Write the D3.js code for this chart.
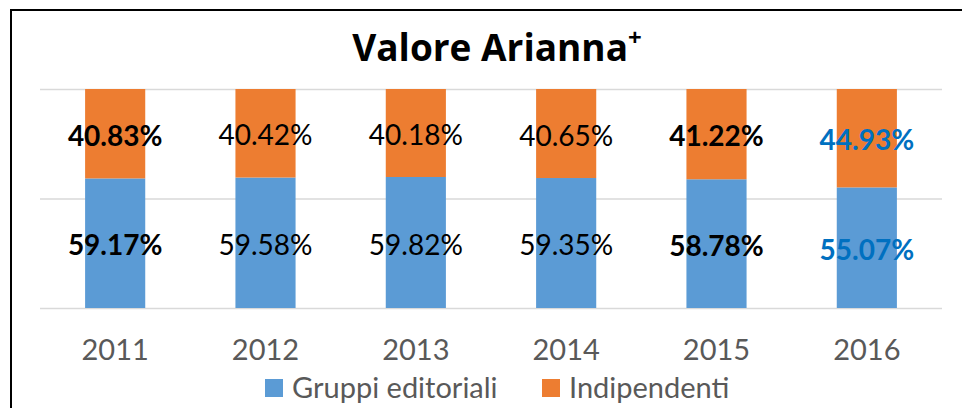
<!DOCTYPE html>
<html>
<head>
<meta charset="utf-8">
<script src="https://cdn.jsdelivr.net/npm/d3@7"></script>
<style>
  body { margin: 0; background: #fff; }
  svg { display: block; font-family: Lato, "Open Sans", sans-serif; }
</style>
</head>
<body>
<div id="chart"></div>
<script>
// chart values
var years = ["2011", "2012", "2013", "2014", "2015", "2016"];
var gruppi = [59.17, 59.58, 59.82, 59.35, 58.78, 55.07];
var indipendenti = [40.83, 40.42, 40.18, 40.65, 41.22, 44.93];
var labelBold = [true, false, false, false, true, true];
var labelBlue = [false, false, false, false, false, true];
var seriesNames = ["Gruppi editoriali", "Indipendenti"];
var seriesColors = ["#5b9bd5", "#ed7d31"];
var gridTicks = [0, 50, 100];

var width = 962, height = 408;

var svg = d3.select("#chart").append("svg")
    .attr("width", width)
    .attr("height", height);

svg.append("rect")
    .attr("width", width).attr("height", height)
    .attr("fill", "#fff");

// frame (right and bottom edges fall outside the picture)
svg.append("rect")
    .attr("x", 11).attr("y", 10)
    .attr("width", 1000).attr("height", 500)
    .attr("fill", "none")
    .attr("stroke", "#000")
    .attr("stroke-width", 2);

var title = svg.append("text")
    .attr("x", 497).attr("y", 61)
    .attr("text-anchor", "middle")
    .attr("font-family", "'Open Sans', Lato, sans-serif")
    .attr("font-size", 37)
    .attr("font-weight", "bold")
    .attr("fill", "#000");
title.append("tspan").text("Valore Arianna");
title.append("tspan").attr("font-size", 24).attr("dy", -15).text("+");

var x = d3.scaleBand()
    .domain(years)
    .range([40, 942])
    .paddingInner(0.6)
    .paddingOuter(0.3);

var y = d3.scaleLinear()
    .domain([0, 100])
    .range([308, 89]);

// gridlines
svg.append("g")
    .selectAll("line")
    .data(gridTicks)
    .join("line")
    .attr("x1", 40).attr("x2", 942)
    .attr("y1", function(d) { return y(d) + 0.5; })
    .attr("y2", function(d) { return y(d) + 0.5; })
    .attr("stroke", "#d9d9d9")
    .attr("stroke-width", 1.5);

var rows = years.map(function(yr, i) {
    return { year: yr, gruppi: gruppi[i], indipendenti: indipendenti[i], i: i };
});
var stacked = d3.stack().keys(["gruppi", "indipendenti"])(rows);

var layers = svg.append("g")
    .selectAll("g")
    .data(stacked)
    .join("g")
    .attr("fill", function(d, k) { return seriesColors[k]; });

layers.selectAll("rect")
    .data(function(d) { return d; })
    .join("rect")
    .attr("x", function(d) { return x(d.data.year); })
    .attr("width", x.bandwidth())
    .attr("y", function(d) { return y(d[1]); })
    .attr("height", function(d) { return y(d[0]) - y(d[1]); });

// data labels
var fs = 28;
layers.selectAll("text")
    .data(function(d) { return d.map(function(p) { return { p: p, key: d.key }; }); })
    .join("text")
    .attr("x", function(d) { return x(d.p.data.year) + x.bandwidth() / 2; })
    .attr("y", function(d) { return (y(d.p[0]) + y(d.p[1])) / 2 + fs * 0.358 + 2; })
    .attr("text-anchor", "middle")
    .attr("font-size", fs)
    .attr("font-weight", function(d) { return labelBold[d.p.data.i] ? "bold" : "normal"; })
    .attr("fill", function(d) { return labelBlue[d.p.data.i] ? "#0070c0" : "#000"; })
    .text(function(d) { return d.p.data[d.key].toFixed(2) + "%"; });

// category axis
var xAxis = svg.append("g")
    .attr("transform", "translate(0,308)")
    .call(d3.axisBottom(x).tickSize(0).tickPadding(0));
xAxis.select(".domain").remove();
xAxis.selectAll("text")
    .attr("y", 52)
    .attr("dy", null)
    .attr("font-family", "Lato, sans-serif")
    .attr("font-size", 29)
    .attr("fill", "#595959");

// legend
var legendX = [265, 542];
var legend = svg.append("g")
    .selectAll("g")
    .data(seriesNames)
    .join("g")
    .attr("transform", function(d, k) { return "translate(" + legendX[k] + ",379)"; });
legend.append("rect")
    .attr("width", 18).attr("height", 18)
    .attr("fill", function(d, k) { return seriesColors[k]; });
legend.append("text")
    .attr("x", 27).attr("y", 19)
    .attr("font-size", 29)
    .attr("fill", "#595959")
    .text(function(d) { return d; });
</script>
</body>
</html>
